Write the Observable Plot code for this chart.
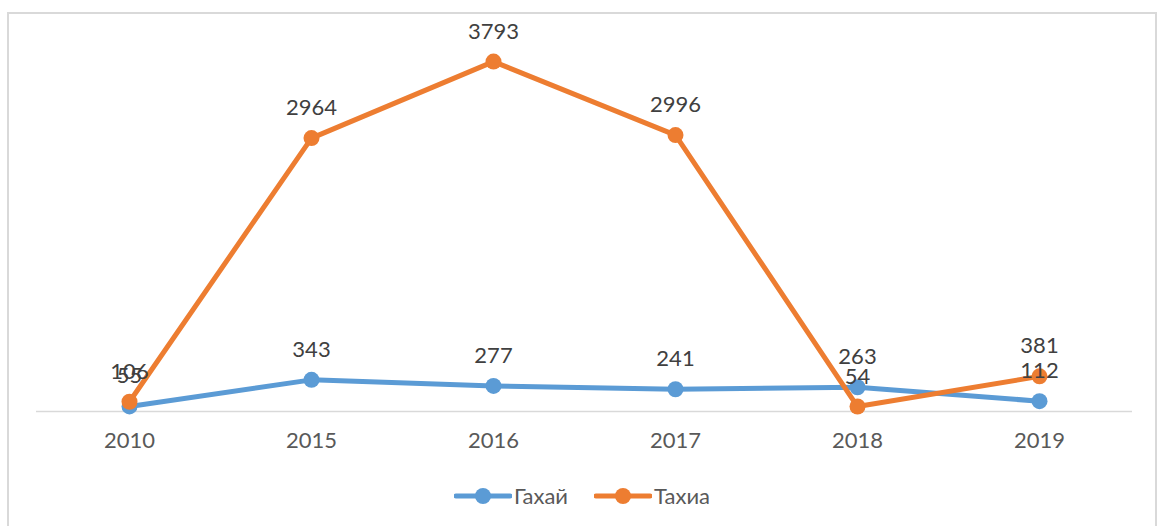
<!DOCTYPE html>
<html>
<head>
<meta charset="utf-8">
<script src="https://cdn.jsdelivr.net/npm/d3@7"></script>
<script src="https://cdn.jsdelivr.net/npm/@observablehq/plot@0.6"></script>
<style>
  html, body { margin: 0; padding: 0; background: #fff; }
  #wrap { position: relative; width: 1160px; height: 526px; overflow: hidden; font-family: Lato, "Open Sans", sans-serif; }
  #frame { position: absolute; left: 7px; top: 12px; width: 1150px; height: 520px; border: 2px solid #d9d9d9; box-sizing: border-box; }
  #chart { position: absolute; left: 0; top: 0; }
  #legend { position: absolute; top: 482px; left: 2px; width: 1160px; display: flex; justify-content: center; align-items: center; gap: 26px; font-size: 22px; color: #595959; }
  .item { display: flex; align-items: center; gap: 2px; }
</style>
</head>
<body>
<div id="wrap">
  <div id="frame"></div>
  <div id="chart"></div>
  <div id="legend"></div>
</div>
<script>
const years = ["2010", "2015", "2016", "2017", "2018", "2019"];
const seriesNames = ["Гахай", "Тахиа"];
const gakhai = [55, 343, 277, 241, 263, 112];
const takhia = [106, 2964, 3793, 2996, 54, 381];
const colors = ["#5B9BD5", "#ED7D31"];

const data = [];
years.forEach((y, i) => data.push({year: y, value: gakhai[i], series: seriesNames[0]}));
years.forEach((y, i) => data.push({year: y, value: takhia[i], series: seriesNames[1]}));

const marks = [
  Plot.ruleY([0], {stroke: "#d9d9d9", strokeWidth: 1.5}),
  Plot.axisX({tickSize: 0, tickPadding: 21, fontSize: 22, color: "#595959", label: null})
];
seriesNames.forEach((s, k) => {
  const d = data.filter(r => r.series === s);
  marks.push(Plot.line(d, {x: "year", y: "value", stroke: colors[k], strokeWidth: 5, strokeLinejoin: "round"}));
  marks.push(Plot.dot(d, {x: "year", y: "value", fill: colors[k], r: 8, stroke: null}));
});
seriesNames.forEach((s, k) => {
  const d = data.filter(r => r.series === s);
  marks.push(Plot.text(d, {x: "year", y: "value", text: r => String(r.value), dy: -30, fontSize: 22, fill: "#404040"}));
});

const plot = Plot.plot({
  width: 1160,
  height: 460,
  marginLeft: 36,
  marginRight: 28,
  marginTop: 42,
  marginBottom: 49,
  style: {fontFamily: "Lato, 'Open Sans', sans-serif", background: "transparent", overflow: "visible"},
  x: {type: "point", domain: years, padding: 0.5, label: null},
  y: {domain: [0, 4000], axis: null},
  marks
});
document.getElementById("chart").appendChild(plot);

const legend = document.getElementById("legend");
seriesNames.forEach((s, k) => {
  const item = document.createElement("div");
  item.className = "item";
  item.innerHTML = `<svg width="58" height="20"><line x1="2" x2="56" y1="10" y2="10" stroke="${colors[k]}" stroke-width="5" stroke-linecap="round"/><circle cx="29" cy="10" r="8" fill="${colors[k]}"/></svg><span>${s}</span>`;
  legend.appendChild(item);
});
</script>
</body>
</html>
